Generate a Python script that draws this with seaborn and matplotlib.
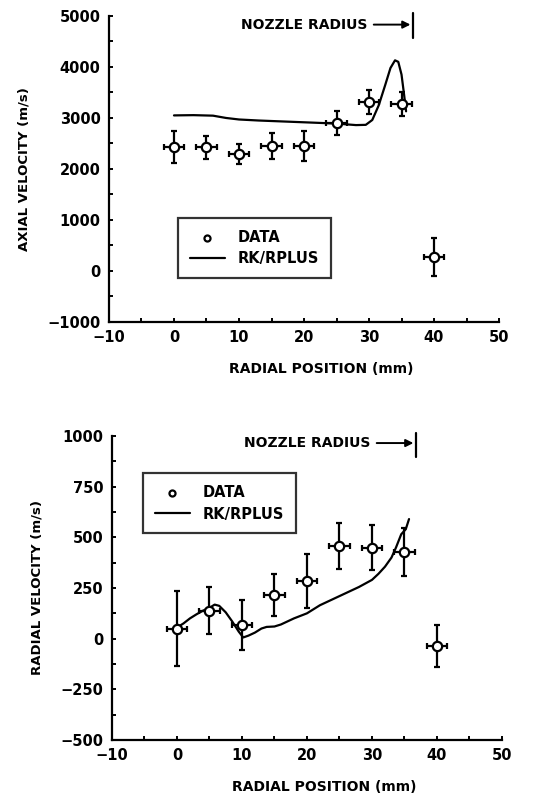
import matplotlib
matplotlib.use("Agg")
import matplotlib.pyplot as plt
import seaborn as sns
import pandas as pd
import numpy as np
from matplotlib.ticker import MultipleLocator, FuncFormatter

# measured data (same radial stations in both panels)
pos = [0, 5, 10, 15, 20, 25, 30, 35, 40]
pos_err = 1.6

axial = [2430, 2425, 2295, 2455, 2450, 2905, 3315, 3270, 270]
axial_err = [310, 220, 190, 250, 290, 240, 235, 230, 370]

radial = [50, 138, 67, 215, 284, 459, 449, 429, -38]
radial_err = [183, 115, 122, 103, 134, 114, 111, 118, 103]

# RK/RPLUS prediction
ax_line_x = [0, 3, 6, 8, 10, 13, 16, 20, 25, 28, 29.5, 30.5, 31.5, 32.5, 33.3, 34.0, 34.5, 35.0, 35.4, 35.7]
ax_line_y = [3050, 3055, 3045, 3000, 2970, 2950, 2935, 2915, 2890, 2860, 2865, 2960, 3250, 3650, 3980, 4130, 4100, 3850, 3450, 3130]

rad_line_x = [-0.6, 0, 1, 2, 3, 4, 5, 5.8, 6.5, 7.5, 8.5, 9.5, 10.2, 11, 12, 13, 13.8, 15, 16, 17, 18, 20, 22, 24, 26, 28, 30, 31, 32, 33, 33.7, 34.5, 35.2, 35.7]
rad_line_y = [50, 55, 75, 100, 120, 138, 152, 168, 162, 130, 85, 35, 6, 15, 30, 50, 58, 60, 70, 85, 100, 125, 165, 195, 225, 255, 290, 320, 355, 400, 450, 515, 540, 590]

nozzle_r = 36.8

sns.set_style("ticks")
plt.rcParams['font.family'] = ['DejaVu Sans']
plt.rcParams['font.weight'] = 'bold'
plt.rcParams['axes.labelweight'] = 'bold'
plt.rcParams['axes.linewidth'] = 1.6
for k in ['text.color', 'axes.labelcolor', 'xtick.color', 'ytick.color', 'axes.edgecolor']:
    plt.rcParams[k] = 'black'

fig = plt.figure(figsize=(5.46, 7.97), dpi=100)
ax1 = fig.add_axes([0.1996, 0.596, 0.7144, 0.384])
ax2 = fig.add_axes([0.205, 0.0715, 0.7144, 0.3815])

fmt = FuncFormatter(lambda v, p: ("\u2212" + "%d" % abs(v)) if v < 0 else "%d" % v)


def panel(ax, vals, errs, lx, ly, ylim, ymaj, ymin, ylabel, noz_y, noz_lo, noz_hi):
    line_df = pd.DataFrame({"x": lx, "y": ly})
    sns.lineplot(data=line_df, x="x", y="y", ax=ax, color="black", lw=1.6,
                 sort=False, estimator=None, label="RK/RPLUS", legend=False)
    ax.errorbar(pos, vals, yerr=errs, xerr=pos_err, fmt="none", ecolor="black",
                elinewidth=1.6, capsize=2.5, capthick=1.6, zorder=3)
    pts = pd.DataFrame({"x": pos, "y": vals})
    sns.scatterplot(data=pts, x="x", y="y", ax=ax, marker="o", s=45,
                    facecolor="white", edgecolor="black", linewidth=1.6,
                    zorder=4, label="DATA", legend=False)
    ax.set_xlim(-10, 50)
    ax.set_ylim(*ylim)
    ax.xaxis.set_major_locator(MultipleLocator(10))
    ax.xaxis.set_minor_locator(MultipleLocator(5))
    ax.yaxis.set_major_locator(MultipleLocator(ymaj))
    ax.yaxis.set_minor_locator(MultipleLocator(ymin))
    ax.xaxis.set_major_formatter(fmt)
    ax.yaxis.set_major_formatter(fmt)
    ax.tick_params(which="both", direction="in", length=3, width=1.4, labelsize=10.5, pad=6)
    for s in ["top", "right"]:
        ax.spines[s].set_visible(False)
    ax.set_xlabel("RADIAL POSITION (mm)", fontsize=10, labelpad=12)
    ax.xaxis.label.set_x(0.545)
    ax.set_ylabel(ylabel, fontsize=9.5, labelpad=12)
    # nozzle radius marker
    ax.plot([nozzle_r, nozzle_r], [noz_lo, noz_hi], color="black", lw=1.6, clip_on=False)
    ax.annotate("", xy=(nozzle_r, noz_y), xytext=(30.3, noz_y),
                arrowprops=dict(arrowstyle="-|>", color="black", lw=1.4, mutation_scale=11),
                annotation_clip=False)
    ax.text(29.8, noz_y, "NOZZLE RADIUS", ha="right", va="center", fontsize=10, clip_on=False)
    h, l = ax.get_legend_handles_labels()
    order = [l.index("DATA"), l.index("RK/RPLUS")]
    leg = ax.legend([h[i] for i in order], [l[i] for i in order], loc="lower left",
                    frameon=True, fancybox=False, edgecolor="black", fontsize=10.5,
                    handlelength=2.4, handletextpad=0.9, borderpad=0.8, markerscale=0.65,
                    borderaxespad=0, labelspacing=0.45)
    leg.get_frame().set_linewidth(1.6)
    return leg


leg1 = panel(ax1, axial, axial_err, ax_line_x, ax_line_y, (-1000, 5000), 1000, 500,
             "AXIAL VELOCITY (m/s)", 4830, 4570, 5060)
leg2 = panel(ax2, radial, radial_err, rad_line_x, rad_line_y, (-500, 1000), 250, 125,
             "RADIAL VELOCITY (m/s)", 965, 896, 1015)

leg1.set_bbox_to_anchor((0.177, 0.144), transform=ax1.transAxes)
leg2.set_bbox_to_anchor((0.08, 0.68), transform=ax2.transAxes)

fig.savefig("out.png", dpi=100)
